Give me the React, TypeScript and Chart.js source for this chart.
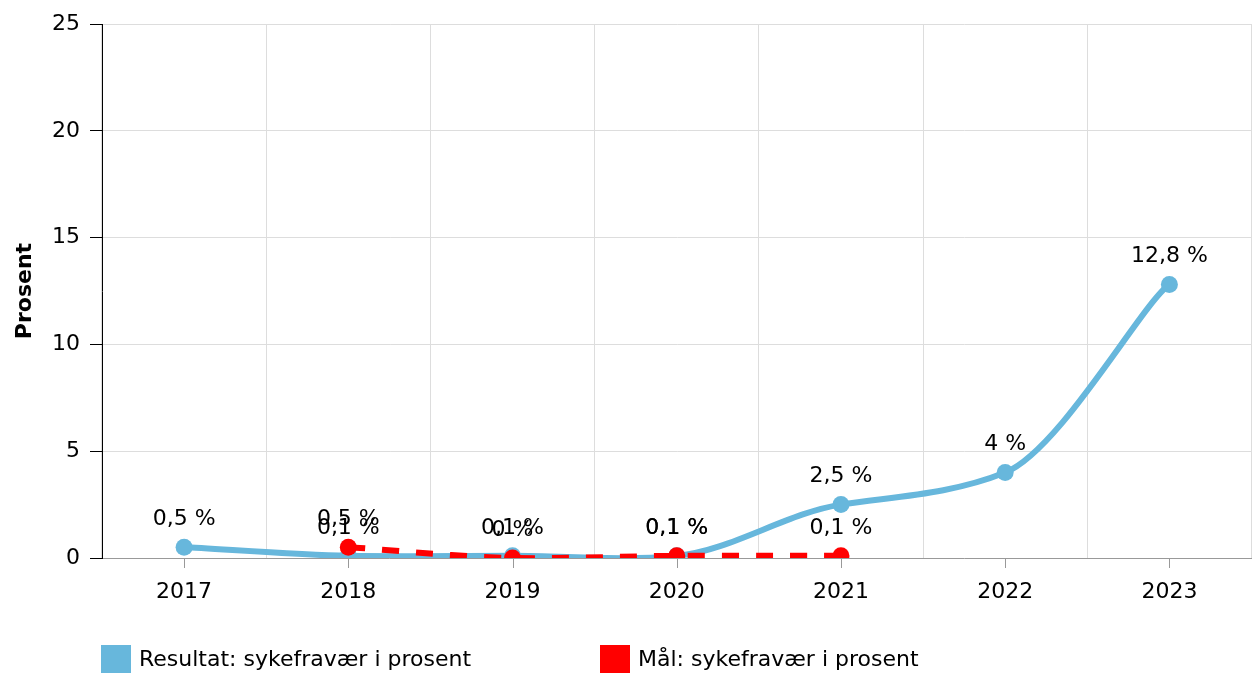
import React, { useEffect, useRef } from "react";
import { Chart, registerables } from "chart.js";

Chart.register(...registerables);

const years = ["2017", "2018", "2019", "2020", "2021", "2022", "2023"];
const resultat: (number | null)[] = [0.5, 0.1, 0.1, 0.1, 2.5, 4, 12.8];
const maal: (number | null)[] = [null, 0.5, 0, 0.1, 0.1, null, null];
const seriesNames = ["Resultat: sykefravær i prosent", "Mål: sykefravær i prosent"];
const yTicks = [0, 5, 10, 15, 20, 25];

const BLUE = "#67b7dc";
const RED = "#ff0000";
const FONT = "'DejaVu Sans', Verdana, sans-serif";
const FS = 22;
const TENSION_X = 1;
const TENSION_Y = 0.6;
const CANVAS_W = 1260;

const fmt = (v: number) => String(v).replace(".", ",") + " %";

// Catmull-Rom style smoothing with separate x/y tension
function smooth(points: any[]) {
  const runs: any[][] = [];
  let cur: any[] = [];
  points.forEach((p) => {
    if (p.skip) {
      if (cur.length) runs.push(cur);
      cur = [];
    } else cur.push(p);
  });
  if (cur.length) runs.push(cur);
  runs.forEach((pts) => {
    const n = pts.length;
    for (let i = 0; i < n - 1; i++) {
      const p1 = pts[i];
      const p2 = pts[i + 1];
      const p0 = i > 0 ? pts[i - 1] : p1;
      const p3 = i + 2 < n ? pts[i + 2] : p2;
      p1.cp2x = p1.x + ((p2.x - p0.x) / 6) * TENSION_X;
      p1.cp2y = p1.y + ((p2.y - p0.y) / 6) * TENSION_Y;
      p2.cp1x = p2.x - ((p3.x - p1.x) / 6) * TENSION_X;
      p2.cp1y = p2.y - ((p3.y - p1.y) / 6) * TENSION_Y;
    }
    if (n) {
      pts[0].cp1x = pts[0].x; pts[0].cp1y = pts[0].y;
      pts[n - 1].cp2x = pts[n - 1].x; pts[n - 1].cp2y = pts[n - 1].y;
    }
  });
}

const smoothPlugin = {
  id: "smoothCurve",
  beforeDatasetsDraw(chart: any) {
    chart.data.datasets.forEach((_: any, i: number) => {
      const meta = chart.getDatasetMeta(i);
      if (meta.dataset && meta.dataset.updateControlPoints) {
        meta.dataset.updateControlPoints(chart.chartArea, "x");
      }
      smooth(meta.data);
      if (meta.dataset) meta.dataset._path = undefined;
    });
  },
};

const labelsPlugin = {
  id: "customDraw",
  afterDatasetsDraw(chart: any) {
    const ctx = chart.ctx;
    ctx.save();
    ctx.font = `${FS}px ${FONT}`;
    ctx.fillStyle = "#000";
    ctx.textAlign = "center";
    ctx.textBaseline = "middle";
    chart.data.datasets.forEach((ds: any, i: number) => {
      const meta = chart.getDatasetMeta(i);
      meta.data.forEach((pt: any, j: number) => {
        const v = ds.data[j];
        if (v === null || v === undefined) return;
        ctx.fillText(fmt(v), pt.x, pt.y - 28);
      });
    });
    ctx.restore();
  },
  afterDraw(chart: any) {
    const ctx = chart.ctx;
    const xs = chart.scales.x;
    const bottom = chart.chartArea.bottom;
    ctx.save();
    ctx.strokeStyle = "#999";
    ctx.lineWidth = 1;
    years.forEach((_, i) => {
      const x = Math.round(xs.getPixelForValue(i)) + 0.5;
      ctx.beginPath();
      ctx.moveTo(x, bottom);
      ctx.lineTo(x, bottom + 10);
      ctx.stroke();
    });
    const items = [
      { x: 101, color: BLUE, text: seriesNames[0] },
      { x: 600, color: RED, text: seriesNames[1] },
    ];
    ctx.font = `${FS}px ${FONT}`;
    ctx.textBaseline = "middle";
    ctx.textAlign = "left";
    items.forEach((it) => {
      ctx.fillStyle = it.color;
      ctx.fillRect(it.x, 645, 30, 30);
      ctx.fillStyle = "#000";
      ctx.fillText(it.text, it.x + 38, 660);
    });
    ctx.restore();
  },
};

export default function App() {
  const ref = useRef<HTMLCanvasElement>(null);
  useEffect(() => {
    if (!ref.current) return;
    const chart = new Chart(ref.current, {
      type: "line",
      data: {
        labels: years,
        datasets: [
          {
            label: seriesNames[1],
            data: maal,
            borderColor: RED,
            backgroundColor: RED,
            borderWidth: 6,
            borderDash: [17, 17],
            pointRadius: 8.5,
            pointBorderWidth: 0,
            pointBackgroundColor: RED,
            tension: 0.4,
          },
          {
            label: seriesNames[0],
            data: resultat,
            borderColor: BLUE,
            backgroundColor: BLUE,
            borderWidth: 6,
            pointRadius: 8.5,
            pointBorderWidth: 0,
            pointBackgroundColor: BLUE,
            tension: 0.4,
          },
        ],
      },
      options: {
        animation: false,
        responsive: false,
        layout: { padding: { top: 24, right: 2, bottom: 55, left: 0 } },
        plugins: { legend: { display: false }, tooltip: { enabled: false } },
        scales: {
          x: {
            offset: true,
            grid: { offset: true, color: "#dddddd", drawTicks: false },
            border: { color: "#999999", width: 1 },
            ticks: { color: "#000", font: { family: FONT, size: FS }, padding: 21 },
            afterFit: (s: any) => { s.height = 60; },
          },
          y: {
            min: 0,
            max: 25,
            afterBuildTicks: (s: any) => { s.ticks = yTicks.map((v) => ({ value: v })); },
            grid: { color: "#dddddd", tickColor: "#000", tickLength: 12 },
            border: { color: "#000", width: 1 },
            ticks: { color: "#000", font: { family: FONT, size: FS }, padding: 10 },
            title: { display: true, text: "Prosent", color: "#000", font: { family: FONT, size: FS, weight: "bold" }, padding: { top: 12, bottom: 4 } },
            afterFit: (s: any) => { s.width = 102; },
          },
        },
      },
      plugins: [smoothPlugin, labelsPlugin],
    } as any);
    return () => chart.destroy();
  }, []);
  return (
    <div style={{ position: "fixed", left: 0, top: 0, width: 1254, height: 673, overflow: "hidden" }}>
      <canvas ref={ref} width={CANVAS_W} height={673} style={{ width: CANVAS_W, height: 673, display: "block" }} />
    </div>
  );
}
